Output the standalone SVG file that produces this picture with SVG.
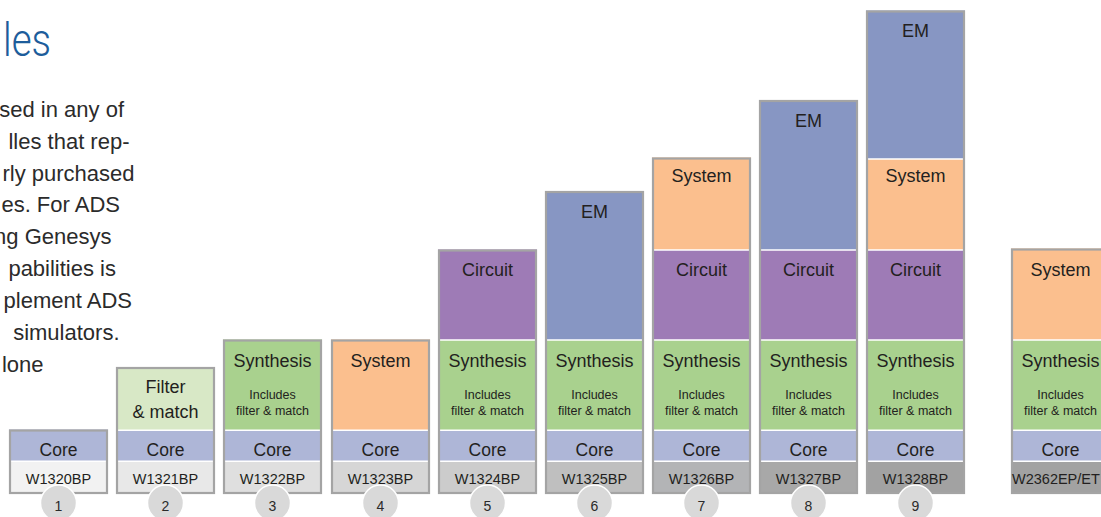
<svg xmlns="http://www.w3.org/2000/svg" width="1101" height="517" viewBox="0 0 1101 517">
<style>
text{font-family:"Liberation Sans",Arial,sans-serif;fill:#231f20}
.lbl{font-size:18px;text-anchor:middle}
.core-t{font-size:17.5px;text-anchor:middle}
.pn{font-size:14.5px;text-anchor:middle}
.sm{font-size:12.5px;text-anchor:middle}
.num{font-size:14px;text-anchor:middle;fill:#2a2a2a}
.para{font-size:22px;text-anchor:end;fill:#2b2b2b}
.core{fill:#aeb6d7}
.syn{fill:#a9d18e}
.fil{fill:#d8e8c6}
.sys{fill:#fbbf8e}
.cir{fill:#9e7bb6}
.em{fill:#8796c3}
.div{stroke:#fff;stroke-width:1.6;fill:none}
.frame{fill:none;stroke:#a4a4a4;stroke-width:2.2}
.circ{fill:#d9d9d9;stroke:#fff;stroke-width:1.5}
</style>
<rect width="1101" height="517" fill="#fff"/>
<g id="title">
<text x="3" y="56" font-size="46" textLength="48" lengthAdjust="spacingAndGlyphs" style="fill:#1d5d9b;font-family:Roboto,'Liberation Sans',sans-serif;font-weight:300">les</text>
</g>
<g id="paragraph">
<text class="para" x="124" y="117">sed in any of</text>
<text class="para" x="129.5" y="149">lles that rep-</text>
<text class="para" x="134.5" y="180.5">rly purchased</text>
<text class="para" x="120" y="212">es. For ADS</text>
<text class="para" x="111.5" y="244">ng Genesys</text>
<text class="para" x="116" y="276">pabilities is</text>
<text class="para" x="132" y="308">plement ADS</text>
<text class="para" x="119.5" y="340">simulators.</text>
<text class="para" x="43.5" y="372">lone</text>
</g>
<g id="connectors"></g>

<g id="bar1">
<rect x="9" y="461" width="99" height="33" fill="#f2f2f2"/>
<rect class="core" x="9" y="429.5" width="99" height="31.5"/>
<path class="div" d="M11 461.2H106"/>
<rect class="frame" x="10" y="430.5" width="97" height="62.5"/>
<text class="core-t" x="58.5" y="456">Core</text>
<text class="pn" x="58.5" y="483.5">W1320BP</text>
<circle class="circ" cx="58.5" cy="503" r="18"/>
<text class="num" x="58.5" y="510.5">1</text>
</g>

<g id="bar2">
<rect x="116" y="461" width="99" height="33" fill="#e8e8e8"/>
<rect class="core" x="116" y="430" width="99" height="31"/>
<rect class="fil" x="116" y="367" width="99" height="63.3"/>
<path class="div" d="M118 430.3H213M118 461.2H213"/>
<rect class="frame" x="117" y="368" width="97" height="125"/>
<text class="lbl" x="165.5" y="392.5">Filter</text>
<text class="lbl" x="165.5" y="417.5">&amp; match</text>
<text class="core-t" x="165.5" y="456">Core</text>
<text class="pn" x="165.5" y="483.5">W1321BP</text>
<circle class="circ" cx="165.5" cy="503" r="18"/>
<text class="num" x="165.5" y="510.5">2</text>
</g>

<g id="bar3">
<rect x="223" y="461" width="99" height="33" fill="#dfdfdf"/>
<rect class="core" x="223" y="430" width="99" height="31"/>
<rect class="syn" x="223" y="339.5" width="99" height="90.8"/>
<path class="div" d="M225 430.3H320M225 461.2H320"/>
<rect class="frame" x="224" y="340.5" width="97" height="152.5"/>
<text class="lbl" x="272.5" y="367">Synthesis</text>
<text class="sm" x="272.5" y="398.5">Includes</text>
<text class="sm" x="272.5" y="414.5">filter &amp; match</text>
<text class="core-t" x="272.5" y="456">Core</text>
<text class="pn" x="272.5" y="483.5">W1322BP</text>
<circle class="circ" cx="272.5" cy="503" r="18"/>
<text class="num" x="272.5" y="510.5">3</text>
</g>

<g id="bar4">
<rect x="331" y="461" width="99" height="33" fill="#d6d6d6"/>
<rect class="core" x="331" y="430" width="99" height="31"/>
<rect class="sys" x="331" y="339.5" width="99" height="90.8"/>
<path class="div" d="M333 430.3H428M333 461.2H428"/>
<rect class="frame" x="332" y="340.5" width="97" height="152.5"/>
<text class="lbl" x="380.5" y="367">System</text>
<text class="core-t" x="380.5" y="456">Core</text>
<text class="pn" x="380.5" y="483.5">W1323BP</text>
<circle class="circ" cx="380.5" cy="503" r="18"/>
<text class="num" x="380.5" y="510.5">4</text>
</g>

<g id="bar5">
<rect x="438" y="461" width="99" height="33" fill="#cccccc"/>
<rect class="core" x="438" y="430" width="99" height="31"/>
<rect class="syn" x="438" y="340" width="99" height="90.3"/>
<rect class="cir" x="438" y="249.5" width="99" height="90.5"/>
<path class="div" d="M440 340H535M440 430.3H535M440 461.2H535"/>
<rect class="frame" x="439" y="250.5" width="97" height="242.5"/>
<text class="lbl" x="487.5" y="276">Circuit</text>
<text class="lbl" x="487.5" y="367">Synthesis</text>
<text class="sm" x="487.5" y="398.5">Includes</text>
<text class="sm" x="487.5" y="414.5">filter &amp; match</text>
<text class="core-t" x="487.5" y="456">Core</text>
<text class="pn" x="487.5" y="483.5">W1324BP</text>
<circle class="circ" cx="487.5" cy="503" r="18"/>
<text class="num" x="487.5" y="510.5">5</text>
</g>

<g id="bar6">
<rect x="545" y="461" width="99" height="33" fill="#bfbfbf"/>
<rect class="core" x="545" y="430" width="99" height="31"/>
<rect class="syn" x="545" y="340" width="99" height="90.3"/>
<rect class="em" x="545" y="191" width="99" height="149"/>
<path class="div" d="M547 340H642M547 430.3H642M547 461.2H642"/>
<rect class="frame" x="546" y="192" width="97" height="301"/>
<text class="lbl" x="594.5" y="218">EM</text>
<text class="lbl" x="594.5" y="367">Synthesis</text>
<text class="sm" x="594.5" y="398.5">Includes</text>
<text class="sm" x="594.5" y="414.5">filter &amp; match</text>
<text class="core-t" x="594.5" y="456">Core</text>
<text class="pn" x="594.5" y="483.5">W1325BP</text>
<circle class="circ" cx="594.5" cy="503" r="18"/>
<text class="num" x="594.5" y="510.5">6</text>
</g>

<g id="bar7">
<rect x="652" y="461" width="99" height="33" fill="#b3b4b6"/>
<rect class="core" x="652" y="430" width="99" height="31"/>
<rect class="syn" x="652" y="340" width="99" height="90.3"/>
<rect class="cir" x="652" y="250" width="99" height="90"/>
<rect class="sys" x="652" y="157.5" width="99" height="92.5"/>
<path class="div" d="M654 250H749M654 340H749M654 430.3H749M654 461.2H749"/>
<rect class="frame" x="653" y="158.5" width="97" height="334.5"/>
<text class="lbl" x="701.5" y="182">System</text>
<text class="lbl" x="701.5" y="276">Circuit</text>
<text class="lbl" x="701.5" y="367">Synthesis</text>
<text class="sm" x="701.5" y="398.5">Includes</text>
<text class="sm" x="701.5" y="414.5">filter &amp; match</text>
<text class="core-t" x="701.5" y="456">Core</text>
<text class="pn" x="701.5" y="483.5">W1326BP</text>
<circle class="circ" cx="701.5" cy="503" r="18"/>
<text class="num" x="701.5" y="510.5">7</text>
</g>

<g id="bar8">
<rect x="759" y="461" width="99" height="33" fill="#a8a8a8"/>
<rect class="core" x="759" y="430" width="99" height="31"/>
<rect class="syn" x="759" y="340" width="99" height="90.3"/>
<rect class="cir" x="759" y="250" width="99" height="90"/>
<rect class="em" x="759" y="100" width="99" height="150"/>
<path class="div" d="M761 250H856M761 340H856M761 430.3H856M761 461.2H856"/>
<rect class="frame" x="760" y="101" width="97" height="392"/>
<text class="lbl" x="808.5" y="126.5">EM</text>
<text class="lbl" x="808.5" y="276">Circuit</text>
<text class="lbl" x="808.5" y="367">Synthesis</text>
<text class="sm" x="808.5" y="398.5">Includes</text>
<text class="sm" x="808.5" y="414.5">filter &amp; match</text>
<text class="core-t" x="808.5" y="456">Core</text>
<text class="pn" x="808.5" y="483.5">W1327BP</text>
<circle class="circ" cx="808.5" cy="503" r="18"/>
<text class="num" x="808.5" y="510.5">8</text>
</g>

<g id="bar9">
<rect x="866" y="461" width="99" height="33" fill="#a2a2a2"/>
<rect class="core" x="866" y="430" width="99" height="31"/>
<rect class="syn" x="866" y="340" width="99" height="90.3"/>
<rect class="cir" x="866" y="250" width="99" height="90"/>
<rect class="sys" x="866" y="159" width="99" height="91"/>
<rect class="em" x="866" y="10.5" width="99" height="148.5"/>
<path class="div" d="M868 159H963M868 250H963M868 340H963M868 430.3H963M868 461.2H963"/>
<rect class="frame" x="867" y="11.5" width="97" height="481.5"/>
<text class="lbl" x="915.5" y="37">EM</text>
<text class="lbl" x="915.5" y="182">System</text>
<text class="lbl" x="915.5" y="276">Circuit</text>
<text class="lbl" x="915.5" y="367">Synthesis</text>
<text class="sm" x="915.5" y="398.5">Includes</text>
<text class="sm" x="915.5" y="414.5">filter &amp; match</text>
<text class="core-t" x="915.5" y="456">Core</text>
<text class="pn" x="915.5" y="483.5">W1328BP</text>
<circle class="circ" cx="915.5" cy="503" r="18"/>
<text class="num" x="915.5" y="510.5">9</text>
</g>

<g id="bar10">
<rect x="1011" y="461" width="99" height="33" fill="#a2a2a2"/>
<rect class="core" x="1011" y="430" width="99" height="31"/>
<rect class="syn" x="1011" y="340" width="99" height="90.3"/>
<rect class="sys" x="1011" y="248.5" width="99" height="91.5"/>
<path class="div" d="M1013 340H1108M1013 430.3H1108M1013 461.2H1108"/>
<rect class="frame" x="1012" y="249.5" width="97" height="243.5"/>
<text class="lbl" x="1060.5" y="276">System</text>
<text class="lbl" x="1060.5" y="367">Synthesis</text>
<text class="sm" x="1060.5" y="398.5">Includes</text>
<text class="sm" x="1060.5" y="414.5">filter &amp; match</text>
<text class="core-t" x="1060.5" y="456">Core</text>
<text class="pn" x="1012" y="483.5" style="text-anchor:start">W2362EP/ET</text>
</g>
</svg>
